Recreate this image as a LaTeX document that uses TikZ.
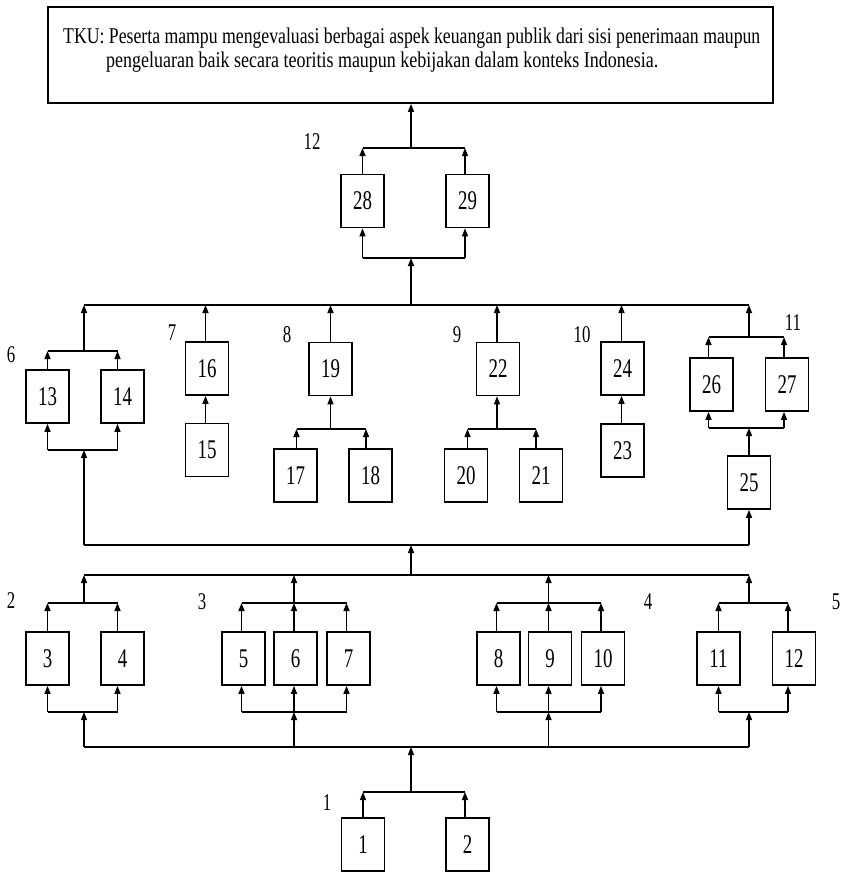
\documentclass[tikz,border=0pt]{standalone}
\usepackage{graphicx}
\usepackage{fontspec}
\setmainfont{Liberation Serif}
\usetikzlibrary{arrows.meta}
\newcommand{\bnum}[1]{\scalebox{0.7}[1]{#1}}
\tikzset{
  box/.style={draw, line width=1.7pt, minimum width=43pt, minimum height=53pt, inner sep=0pt, font=\fontsize{27pt}{29pt}\selectfont},
  grplabel/.style={inner sep=0pt, font=\fontsize{24pt}{26pt}\selectfont},
  arr/.style={line width=1.4pt, -{Triangle[length=8pt,width=6pt]}},
  bar/.style={line width=2.4pt},
  tkutext/.style={anchor=base west, inner sep=0pt, font=\fontsize{22.5pt}{24pt}\selectfont}
}
\begin{document}
\begin{tikzpicture}[x=1pt,y=-1pt]
\useasboundingbox (0,0) rectangle (849,872);

% ---------- TKU box ----------
\node[draw, line width=1.7pt, minimum width=725pt, minimum height=96pt, inner sep=0pt] (tku) at (410.5,55) {};
\node[tkutext] (tkua) at (63,43.5) {\resizebox{697pt}{\height}{TKU: Peserta mampu mengevaluasi berbagai aspek keuangan publik dari sisi penerimaan maupun}};
\node[tkutext] (tkub) at (106,67.5) {\resizebox{552pt}{\height}{pengeluaran baik secara teoritis maupun kebijakan dalam konteks Indonesia.}};

% ---------- junction coordinates ----------
\coordinate (j12t) at (411,148);
\coordinate (j12b) at (411,258);
\coordinate (bbL) at (84,305);
\coordinate (bbC) at (411,305);
\coordinate (bbR) at (749,305);
\coordinate (lbL) at (84,545);
\coordinate (lbC) at (411,545);
\coordinate (lbR) at (749,545);
\coordinate (b2L) at (84,575);
\coordinate (b2C) at (411,575);
\coordinate (b2R) at (749,575);
\coordinate (b3L) at (84,747);
\coordinate (b3C) at (411,747);
\coordinate (b3R) at (749,747);
\coordinate (j1) at (411,792);

% ---------- group 12 ----------
\node[grplabel] (g12) at (312,142) {\bnum{12}};
\node[box] (b28) at (362.5,201) {\bnum{28}};
\node[box] (b29) at (467.5,201) {\bnum{29}};
\draw[arr] (j12t) -- (j12t |- tku.south);
\draw[arr] (b28.north) -- (b28.north |- j12t);
\draw[arr] ([xshift=-2.5pt]b29.north) -- ([xshift=-2.5pt]b29.north |- j12t);
\draw[bar] (b28.north |- j12t) -- ([xshift=-2.5pt]b29.north |- j12t);
\draw[arr] (b28.south |- j12b) -- (b28.south);
\draw[arr] ([xshift=-2.5pt]b29.south |- j12b) -- ([xshift=-2.5pt]b29.south);
\draw[bar] (b28.south |- j12b) -- ([xshift=-2.5pt]b29.south |- j12b);
\draw[arr] (bbC) -- (j12b);
\draw[bar] (bbL) -- (bbR);

% ---------- group 6 ----------
\coordinate (j6t) at (84,351);
\coordinate (j6b) at (84,450);
\node[grplabel] (g6) at (11,355) {\bnum{6}};
\node[box] (b13) at (47.5,396.5) {\bnum{13}};
\node[box] (b14) at (122.5,396.5) {\bnum{14}};
\draw[arr] (b13.north) -- (b13.north |- j6t);
\draw[arr] ([xshift=-5pt]b14.north) -- ([xshift=-5pt]b14.north |- j6t);
\draw[bar] (b13.north |- j6t) -- ([xshift=-5pt]b14.north |- j6t);
\draw[arr] (j6t) -- (bbL);
\draw[arr] (b13.south |- j6b) -- (b13.south);
\draw[arr] ([xshift=-5pt]b14.south |- j6b) -- ([xshift=-5pt]b14.south);
\draw[bar] (b13.south |- j6b) -- ([xshift=-5pt]b14.south |- j6b);
\draw[arr] (lbL) -- (j6b);

% ---------- group 7 ----------
\node[grplabel] (g7) at (172,333) {\bnum{7}};
\node[box] (b16) at (207,368.5) {\bnum{16}};
\node[box] (b15) at (207,450) {\bnum{15}};
\draw[arr] ([xshift=-1.5pt]b16.north) -- ([xshift=-1.5pt]b16.north |- bbL);
\draw[arr] ([xshift=-1.5pt]b15.north) -- ([xshift=-1.5pt]b16.south);

% ---------- group 8 ----------
\coordinate (j8) at (330.5,429);
\node[grplabel] (g8) at (287,335) {\bnum{8}};
\node[box] (b19) at (330.5,369) {\bnum{19}};
\node[box] (b17) at (295.5,475.5) {\bnum{17}};
\node[box] (b18) at (370.5,475.5) {\bnum{18}};
\draw[arr] (b19.north) -- (b19.north |- bbL);
\draw[arr] (j8) -- (b19.south);
\draw[arr] ([xshift=1pt]b17.north) -- ([xshift=1pt]b17.north |- j8);
\draw[arr] ([xshift=-4.5pt]b18.north) -- ([xshift=-4.5pt]b18.north |- j8);
\draw[bar] ([xshift=1pt]b17.north |- j8) -- ([xshift=-4.5pt]b18.north |- j8);

% ---------- group 9 ----------
\coordinate (j9) at (497,429);
\node[grplabel] (g9) at (457,335) {\bnum{9}};
\node[box] (b22) at (498,369) {\bnum{22}};
\node[box] (b20) at (466,475.5) {\bnum{20}};
\node[box] (b21) at (541,475.5) {\bnum{21}};
\draw[arr] ([xshift=-1pt]b22.north) -- ([xshift=-1pt]b22.north |- bbL);
\draw[arr] (j9) -- (j9 |- b22.south);
\draw[arr] ([xshift=1.5pt]b20.north) -- ([xshift=1.5pt]b20.north |- j9);
\draw[arr] ([xshift=-5pt]b21.north) -- ([xshift=-5pt]b21.north |- j9);
\draw[bar] ([xshift=1.5pt]b20.north |- j9) -- ([xshift=-5pt]b21.north |- j9);

% ---------- group 10 ----------
\node[grplabel] (g10) at (582,335) {\bnum{10}};
\node[box] (b24) at (622.5,368.5) {\bnum{24}};
\node[box] (b23) at (622.5,450.5) {\bnum{23}};
\draw[arr] ([xshift=-1pt]b24.north) -- ([xshift=-1pt]b24.north |- bbL);
\draw[arr] ([xshift=-1pt]b23.north) -- ([xshift=-1pt]b24.south);

% ---------- group 11 ----------
\coordinate (j11t) at (749,337);
\coordinate (j11b) at (749,428);
\node[grplabel] (g11) at (793,323) {\bnum{11}};
\node[box] (b26) at (711.5,384.5) {\bnum{26}};
\node[box] (b27) at (787,384.5) {\bnum{27}};
\node[box] (b25) at (749,482.5) {\bnum{25}};
\draw[arr] ([xshift=-3pt]b26.north) -- ([xshift=-3pt]b26.north |- j11t);
\draw[arr] ([xshift=-3pt]b27.north) -- ([xshift=-3pt]b27.north |- j11t);
\draw[bar] ([xshift=-3pt]b26.north |- j11t) -- ([xshift=-3pt]b27.north |- j11t);
\draw[arr] (j11t) -- (bbR);
\draw[arr] ([xshift=-3pt]b26.south |- j11b) -- ([xshift=-3pt]b26.south);
\draw[arr] ([xshift=-3pt]b27.south |- j11b) -- ([xshift=-3pt]b27.south);
\draw[bar] ([xshift=-3pt]b26.south |- j11b) -- ([xshift=-3pt]b27.south |- j11b);
\draw[arr] (b25.north) -- (j11b);
\draw[arr] (lbR) -- (b25.south);

% ---------- long bar and bar 2 ----------
\draw[bar] (lbL) -- (lbR);
\draw[arr] (b2C) -- (lbC);
\draw[bar] (b2L) -- (b2R);

% ---------- group 2 ----------
\coordinate (j2t) at (84,603);
\coordinate (j2b) at (84,712);
\node[grplabel] (g2) at (11,601) {\bnum{2}};
\node[box] (b3) at (47.5,658.5) {\bnum{3}};
\node[box] (b4) at (122.5,658.5) {\bnum{4}};
\draw[arr] (b3.north) -- (b3.north |- j2t);
\draw[arr] ([xshift=-5pt]b4.north) -- ([xshift=-5pt]b4.north |- j2t);
\draw[bar] (b3.north |- j2t) -- ([xshift=-5pt]b4.north |- j2t);
\draw[arr] (j2t) -- (b2L);
\draw[arr] (b3.south |- j2b) -- (b3.south);
\draw[arr] ([xshift=-5pt]b4.south |- j2b) -- ([xshift=-5pt]b4.south);
\draw[bar] (b3.south |- j2b) -- ([xshift=-5pt]b4.south |- j2b);
\draw[arr] (b3L) -- (j2b);

% ---------- group 3 ----------
\coordinate (j3t) at (294,603);
\coordinate (j3b) at (294,712);
\node[grplabel] (g3) at (202,602) {\bnum{3}};
\node[box] (b5) at (243.5,658.5) {\bnum{5}};
\node[box] (b6) at (295.5,658.5) {\bnum{6}};
\node[box] (b7) at (348.5,658.5) {\bnum{7}};
\draw[arr] ([xshift=-2pt]b5.north) -- ([xshift=-2pt]b5.north |- j3t);
\draw[arr] (b6.north -| j3t) -- (j3t);
\draw[arr] ([xshift=-2pt]b7.north) -- ([xshift=-2pt]b7.north |- j3t);
\draw[bar] ([xshift=-2pt]b5.north |- j3t) -- ([xshift=-2pt]b7.north |- j3t);
\draw[arr] (j3t) -- (j3t |- b2L);
\draw[arr] ([xshift=-2pt]b5.south |- j3b) -- ([xshift=-2pt]b5.south);
\draw[arr] (j3b) -- (b6.south -| j3b);
\draw[arr] ([xshift=-2pt]b7.south |- j3b) -- ([xshift=-2pt]b7.south);
\draw[bar] ([xshift=-2pt]b5.south |- j3b) -- ([xshift=-2pt]b7.south |- j3b);
\draw[arr] (j3b |- b3L) -- (j3b);

% ---------- group 4 ----------
\coordinate (j4t) at (548.5,603);
\coordinate (j4b) at (548.5,712);
\node[grplabel] (g4) at (648,602) {\bnum{4}};
\node[box] (b8) at (498.5,658.5) {\bnum{8}};
\node[box] (b9) at (550,658.5) {\bnum{9}};
\node[box] (b10) at (603,658.5) {\bnum{10}};
\draw[arr] ([xshift=-2pt]b8.north) -- ([xshift=-2pt]b8.north |- j4t);
\draw[arr] (b9.north -| j4t) -- (j4t);
\draw[arr] ([xshift=-2pt]b10.north) -- ([xshift=-2pt]b10.north |- j4t);
\draw[bar] ([xshift=-2pt]b8.north |- j4t) -- ([xshift=-2pt]b10.north |- j4t);
\draw[arr] (j4t) -- (j4t |- b2L);
\draw[arr] ([xshift=-2pt]b8.south |- j4b) -- ([xshift=-2pt]b8.south);
\draw[arr] (j4b) -- (b9.south -| j4b);
\draw[arr] ([xshift=-2pt]b10.south |- j4b) -- ([xshift=-2pt]b10.south);
\draw[bar] ([xshift=-2pt]b8.south |- j4b) -- ([xshift=-2pt]b10.south |- j4b);
\draw[arr] (j4b |- b3L) -- (j4b);

% ---------- group 5 ----------
\coordinate (j5t) at (749,603);
\coordinate (j5b) at (749,712);
\node[grplabel] (g5) at (836,602) {\bnum{5}};
\node[box] (b11) at (718.5,658.5) {\bnum{11}};
\node[box] (b12) at (794,658.5) {\bnum{12}};
\draw[arr] (b11.north) -- (b11.north |- j5t);
\draw[arr] ([xshift=-6pt]b12.north) -- ([xshift=-6pt]b12.north |- j5t);
\draw[bar] (b11.north |- j5t) -- ([xshift=-6pt]b12.north |- j5t);
\draw[arr] (j5t) -- (b2R);
\draw[arr] (b11.south |- j5b) -- (b11.south);
\draw[arr] ([xshift=-6pt]b12.south |- j5b) -- ([xshift=-6pt]b12.south);
\draw[bar] (b11.south |- j5b) -- ([xshift=-6pt]b12.south |- j5b);
\draw[arr] (b3R) -- (j5b);

% ---------- bar 3 and group 1 ----------
\draw[bar] (b3L) -- (b3R);
\draw[arr] (j1) -- (b3C);
\node[grplabel] (g1) at (327,803) {\bnum{1}};
\node[box] (b1) at (363,844.5) {\bnum{1}};
\node[box] (b2) at (467.5,844.5) {\bnum{2}};
\draw[arr] (b1.north) -- (b1.north |- j1);
\draw[arr] ([xshift=-2.5pt]b2.north) -- ([xshift=-2.5pt]b2.north |- j1);
\draw[bar] (b1.north |- j1) -- ([xshift=-2.5pt]b2.north |- j1);
\end{tikzpicture}
\end{document}
